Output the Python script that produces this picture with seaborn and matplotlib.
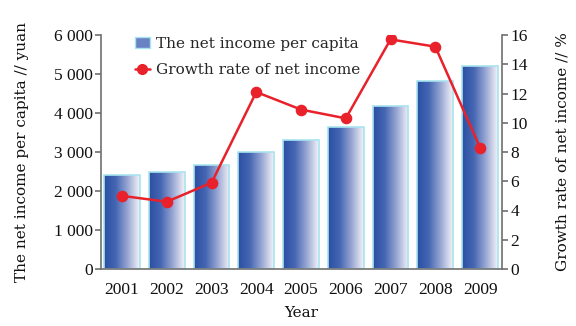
import numpy as np
import matplotlib
matplotlib.use("Agg")
import matplotlib.pyplot as plt
import seaborn as sns
from matplotlib.colors import LinearSegmentedColormap
from matplotlib.patches import Patch
from matplotlib.lines import Line2D

years = ["2001", "2002", "2003", "2004", "2005", "2006", "2007", "2008", "2009"]
income = [2420, 2500, 2670, 3000, 3310, 3650, 4180, 4820, 5200]
growth = [5.0, 4.6, 5.9, 12.1, 10.9, 10.3, 15.7, 15.2, 8.3]
left_ticks = [0, 1000, 2000, 3000, 4000, 5000, 6000]
left_labels = ["0", "1 000", "2 000", "3 000", "4 000", "5 000", "6 000"]
right_ticks = [0, 2, 4, 6, 8, 10, 12, 14, 16]

sns.set_theme(style="white")
plt.rcParams['font.family'] = ['Liberation Serif', 'DejaVu Serif']
wide = ['DejaVu Serif']

fig = plt.figure(figsize=(5.76, 3.26), dpi=100)
ax = fig.add_axes([101/576, 57/326, 401/576, 234/326])

sns.barplot(x=years, y=income, ax=ax, width=0.8, color="#5a78bd",
            edgecolor="#a8e4f0", linewidth=1.2, saturation=1)

cmap = LinearSegmentedColormap.from_list("g", ["#2b4fa3", "#4667b3", "#9aa8d4", "#f4f4f8"])
grad = np.linspace(0, 1, 256).reshape(1, -1)
for p in list(ax.patches):
    x0, y0 = p.get_x(), p.get_y()
    w, h = p.get_width(), p.get_height()
    im = ax.imshow(grad, extent=[x0, x0 + w, y0, y0 + h], aspect="auto",
                   cmap=cmap, zorder=p.get_zorder() + 0.1, origin="lower")
    im.set_clip_path(p)
    p.set_facecolor("none")
    p.set_zorder(p.get_zorder() + 0.2)

ax.set_ylim(0, 6000)
ax.set_yticks(left_ticks)
ax.set_yticklabels(left_labels)
ax.set_xlim(-0.47, 8.49)

ax2 = ax.twinx()
red = "#e8212b"
sns.pointplot(x=years, y=growth, ax=ax2, color=red, markers="o",
              markersize=7, linewidth=1.8)
ax2.set_ylim(0, 16)
ax2.set_yticks(right_ticks)
ax2.set_xlim(-0.47, 8.49)

spine_c = "#707070"
for a in (ax, ax2):
    a.spines["top"].set_visible(False)
    for s in ("left", "right", "bottom"):
        a.spines[s].set_color(spine_c)
        a.spines[s].set_linewidth(1.2)
    a.grid(False)
ax.spines["right"].set_visible(False)
ax2.spines["left"].set_visible(False)
ax2.spines["bottom"].set_visible(False)

ax.tick_params(axis="y", which="both", left=True, length=4, width=1.2,
               color=spine_c, labelsize=12.5, pad=2, labelcolor="#111111")
ax.tick_params(axis="x", bottom=False, labelsize=12.5, pad=3, labelcolor="#111111")
ax2.tick_params(axis="y", right=True, length=4, width=1.2, color=spine_c,
                labelsize=12.5, pad=2, labelcolor="#111111")

ax.set_xlabel("Year", fontsize=11, labelpad=6, color="#111111", family=wide)
ax.set_ylabel("The net income per capita // yuan", fontsize=11, labelpad=18,
              color="#111111", family=wide)
ax2.set_ylabel("Growth rate of net income // %", fontsize=11, labelpad=20,
               color="#111111", family=wide)

handles = [Patch(facecolor="#6a82c4", edgecolor="#a8e4f0"),
           Line2D([], [], color=red, marker="o", markersize=7, linewidth=1.8)]
leg = ax2.legend(handles, ["The net income per capita", "Growth rate of net income"],
                 loc="upper left", bbox_to_anchor=(0.05, 1.05), frameon=False,
                 prop={'family': wide, 'size': 11},
                 handlelength=1.0, handletextpad=0.4, labelspacing=0.8)

fig.savefig("out.png", dpi=100)
